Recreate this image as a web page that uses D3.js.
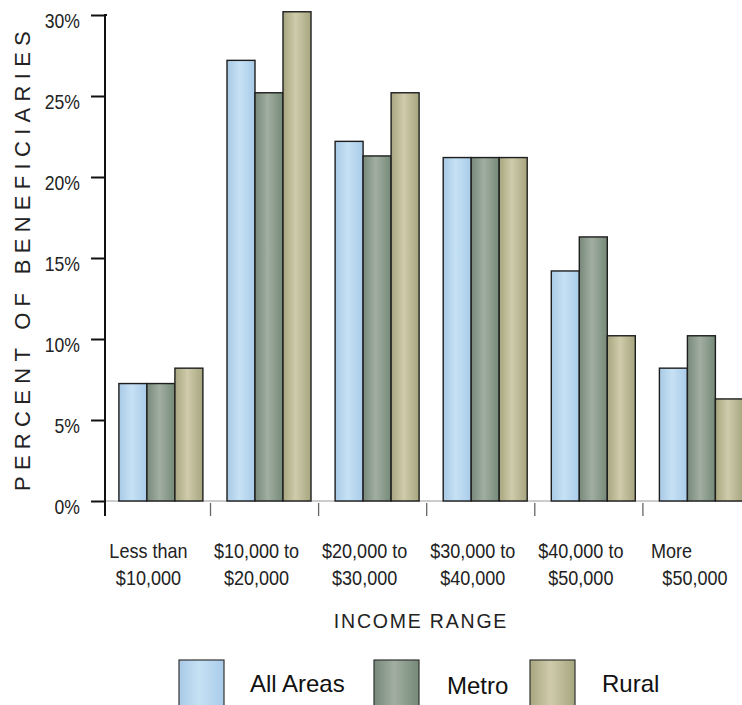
<!DOCTYPE html>
<html><head><meta charset="utf-8">
<script src="https://cdn.jsdelivr.net/npm/d3@7"></script>
<style>
body{margin:0;background:#fff;}
svg{display:block;}
</style></head>
<body><svg id="c" width="742" height="705"></svg>
<script>
const categories = ["Less than $10,000","$10,000 to $20,000","$20,000 to $30,000","$30,000 to $40,000","$40,000 to $50,000","More $50,000"];
const categoryLines = [["Less than","$10,000"],["$10,000 to","$20,000"],["$20,000 to","$30,000"],["$30,000 to","$40,000"],["$40,000 to","$50,000"],["More","$50,000"]];
const seriesNames = ["All Areas","Metro","Rural"];
const allAreas = [7.25, 27.2, 22.2, 21.2, 14.2, 8.2];
const metro    = [7.25, 25.2, 21.3, 21.2, 16.3, 10.2];
const rural    = [8.2, 30.2, 25.2, 21.2, 10.2, 6.3];
const yTicks = [0, 5, 10, 15, 20, 25, 30];

const WIDE = "'Liberation Sans',Arial,sans-serif";
const SX = 0.88; // horizontal condensing of narrow labels
const seriesValues = [allAreas, metro, rural];
const gradStops = [
  ["#a8c9e6","#c6e1f4","#a9cbe9"],
  ["#77897a","#a1aea1","#758a78"],
  ["#a7a67f","#d0cbab","#a6a67f"]
];

const svg = d3.select("#c");
const defs = svg.append("defs");
gradStops.forEach((s,i)=>{
  const g = defs.append("linearGradient").attr("id","g"+i).attr("x1","0%").attr("x2","100%").attr("y1","0%").attr("y2","0%");
  g.append("stop").attr("offset","0%").attr("stop-color",s[0]);
  g.append("stop").attr("offset","45%").attr("stop-color",s[1]);
  g.append("stop").attr("offset","100%").attr("stop-color",s[2]);
});

const y = d3.scaleLinear().domain([0,30]).range([501,15]);
const x0 = d3.scaleBand().domain(categories).range([102.4, 102.4+6*108.1]).padding(0);
const x1 = d3.scaleBand().domain(seriesNames).range([16.5, 100.5]).padding(0);

// x baseline
svg.append("line").attr("x1",105).attr("x2",742).attr("y1",y(0)).attr("y2",y(0))
  .attr("stroke","#bbb").attr("stroke-width",1.5);

// bars
const groups = svg.append("g").selectAll("g").data(categories).join("g")
  .attr("transform",d=>`translate(${x0(d)},0)`);
groups.each(function(cat, ci){
  d3.select(this).selectAll("rect").data(seriesNames.map((s,si)=>({s,si,v:seriesValues[si][ci]})))
    .join("rect")
    .attr("x",d=>x1(d.s)).attr("width",x1.bandwidth())
    .attr("y",d=>y(d.v)).attr("height",d=>y(0)-y(d.v))
    .attr("fill",d=>`url(#g${d.si})`)
    .attr("stroke","#1e1e1e").attr("stroke-width",1.4);
});

// y axis
const ya = svg.append("g").attr("transform","translate(105,0)")
  .call(d3.axisLeft(y).tickValues(yTicks).tickSize(14).tickPadding(10).tickFormat(d=>d+"%"));
ya.select(".domain").remove();
ya.selectAll(".tick line").attr("stroke","#111").attr("stroke-width",2);
ya.selectAll(".tick text").attr("font-family",WIDE).attr("font-size",20).attr("fill","#222")
  .attr("dy",null).attr("y",12).attr("x",-25/SX).attr("transform",`scale(${SX},1)`);
svg.append("line").attr("x1",105).attr("x2",105).attr("y1",15).attr("y2",516)
  .attr("stroke","#111").attr("stroke-width",2);
svg.append("line").attr("x1",104).attr("x2",107).attr("y1",15).attr("y2",15)
  .attr("stroke","#111").attr("stroke-width",2);

// x ticks between groups
const xt = svg.append("g");
xt.selectAll("line").data(categories.slice(1)).join("line")
  .attr("x1",d=>x0(d)).attr("x2",d=>x0(d)).attr("y1",503).attr("y2",516)
  .attr("stroke","#666").attr("stroke-width",1.3);

// category labels (condensed)
const lab = svg.append("g").attr("transform",`scale(${SX},1)`)
  .attr("font-family",WIDE).attr("font-size",20.5).attr("fill","#222");
categoryLines.forEach((lines,i)=>{
  const cx = x0(categories[i]) + x0.bandwidth()/2 - 8;
  const last = i === categoryLines.length-1;
  lab.append("text").attr("x", (last ? x0(categories[i])+8 : cx)/SX).attr("y",558)
    .attr("text-anchor", last ? "start" : "middle").text(lines[0]);
  lab.append("text").attr("x", (last ? cx+6 : cx)/SX).attr("y",585)
    .attr("text-anchor","middle").text(lines[1]);
});

// axis titles
svg.append("text").attr("transform","translate(30,258) rotate(-90)")
  .attr("text-anchor","middle").attr("font-family",WIDE)
  .attr("font-size",22).attr("letter-spacing",6.3).attr("fill","#222")
  .text("PERCENT OF BENEFICIARIES");
svg.append("text").attr("x",421).attr("y",628).attr("text-anchor","middle")
  .attr("font-family",WIDE).attr("font-size",19.5)
  .attr("letter-spacing",1.8).attr("fill","#222").text("INCOME RANGE");

// legend
const legX = [179, 374, 530];
const legTX = [250, 447, 602];
const leg = svg.append("g");
seriesNames.forEach((s,i)=>{
  leg.append("rect").attr("x",legX[i]).attr("y",660).attr("width",45).attr("height",46)
    .attr("fill",`url(#g${i})`).attr("stroke","#333").attr("stroke-width",1.2);
  leg.append("text").attr("x",legTX[i]).attr("y", i===1?694:692)
    .attr("font-family",WIDE).attr("font-size",24).attr("fill","#111").text(s);
});
</script></body></html>
